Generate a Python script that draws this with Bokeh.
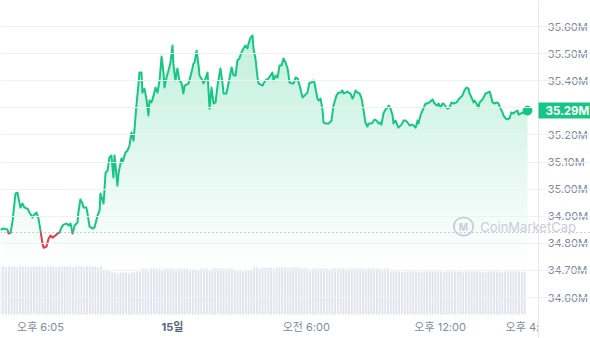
import numpy as np
from bokeh.plotting import figure
from bokeh.models import Range1d, FixedTicker, Span, Label, ColumnDataSource, Grid
from bokeh.core.properties import value
from bokeh.embed import file_html
from bokeh.resources import INLINE

# ---- data (hours relative to midnight of the 15th, market cap in millions) ----
hours = [
    -7.71, -7.58, -7.40, -7.35, -7.26, -7.17, -7.04, -6.95, -6.91, -6.82,
    -6.73, -6.64, -6.50, -6.41, -6.28, -6.23, -6.10, -6.01, -5.92, -5.83,
    -5.78, -5.65, -5.56, -5.47, -5.38, -5.25, -5.16, -5.07, -4.98, -4.89,
    -4.75, -4.66, -4.57, -4.48, -4.39, -4.26, -4.22, -4.13, -4.04, -3.99,
    -3.86, -3.81, -3.72, -3.59, -3.50, -3.36, -3.27, -3.23, -3.09, -3.00,
    -2.91, -2.83, -2.74, -2.65, -2.60, -2.47, -2.42, -2.29, -2.24, -2.11,
    -2.02, -1.93, -1.84, -1.75, -1.70, -1.61, -1.52, -1.48, -1.39, -1.35,
    -1.26, -1.17, -1.08, -1.03, -0.94, -0.85, -0.76, -0.67, -0.58, -0.49,
    -0.40, -0.36, -0.27, -0.18, -0.09, 0.00, 0.04, 0.13, 0.22, 0.31,
    0.40, 0.49, 0.54, 0.63, 0.72, 0.85, 0.94, 0.99, 1.08, 1.17,
    1.21, 1.35, 1.39, 1.48, 1.57, 1.66, 1.75, 1.84, 1.93, 2.02,
    2.06, 2.15, 2.24, 2.29, 2.42, 2.51, 2.65, 2.74, 2.83, 2.91,
    3.00, 3.09, 3.18, 3.27, 3.36, 3.41, 3.50, 3.59, 3.63, 3.72,
    3.81, 3.86, 4.04, 4.08, 4.17, 4.30, 4.39, 4.48, 4.53, 4.62,
    4.71, 4.80, 4.89, 4.98, 5.07, 5.16, 5.25, 5.38, 5.43, 5.52,
    5.61, 5.70, 5.83, 5.92, 6.05, 6.14, 6.23, 6.32, 6.37, 6.50,
    6.55, 6.64, 6.73, 6.77, 6.86, 7.00, 7.13, 7.22, 7.35, 7.44,
    7.53, 7.62, 7.67, 7.76, 7.85, 7.89, 7.98, 8.07, 8.12, 8.21,
    8.30, 8.39, 8.48, 8.57, 8.65, 8.74, 8.79, 8.92, 8.97, 9.06,
    9.15, 9.24, 9.28, 9.37, 9.46, 9.55, 9.64, 9.69, 9.78, 9.87,
    9.91, 10.00, 10.09, 10.13, 10.27, 10.36, 10.45, 10.54, 10.63, 10.76,
    10.90, 10.99, 11.03, 11.12, 11.21, 11.35, 11.43, 11.52, 11.66, 11.75,
    11.88, 11.93, 12.02, 12.11, 12.15, 12.29, 12.33, 12.42, 12.51, 12.60,
    12.74, 12.83, 12.91, 13.00, 13.09, 13.18, 13.27, 13.32, 13.41, 13.50,
    13.54, 13.63, 13.72, 13.77, 13.90, 13.95, 14.04, 14.13, 14.22, 14.30,
    14.35, 14.44, 14.53, 14.62, 14.71, 14.80, 14.84, 14.93, 15.02, 15.11,
    15.20, 15.29, 15.38, 15.47, 15.52, 15.61, 15.70, 15.78, 15.92,
]
price = [
    34.851, 34.855, 34.851, 34.836, 34.840, 34.884, 34.984, 34.987, 34.969, 34.932,
    34.947, 34.932, 34.928, 34.914, 34.895, 34.903, 34.914, 34.892, 34.847, 34.799,
    34.784, 34.788, 34.817, 34.829, 34.821, 34.829, 34.836, 34.840, 34.858, 34.869,
    34.873, 34.866, 34.873, 34.836, 34.866, 34.877, 34.914, 34.962, 34.947, 34.932,
    34.932, 34.910, 34.862, 34.855, 34.858, 34.903, 34.921, 34.984, 34.947, 35.061,
    35.069, 35.117, 35.124, 35.043, 35.124, 35.013, 35.058, 35.113, 35.098, 35.135,
    35.142, 35.161, 35.209, 35.179, 35.224, 35.316, 35.390, 35.430, 35.430, 35.356,
    35.371, 35.334, 35.272, 35.327, 35.320, 35.345, 35.375, 35.356, 35.401, 35.489,
    35.427, 35.375, 35.412, 35.438, 35.467, 35.530, 35.463, 35.401, 35.445, 35.401,
    35.393, 35.353, 35.382, 35.386, 35.390, 35.430, 35.463, 35.467, 35.511, 35.456,
    35.419, 35.401, 35.390, 35.408, 35.430, 35.297, 35.375, 35.316, 35.320, 35.382,
    35.401, 35.445, 35.393, 35.353, 35.353, 35.390, 35.449, 35.419, 35.419, 35.475,
    35.482, 35.504, 35.519, 35.530, 35.519, 35.537, 35.559, 35.567, 35.519, 35.482,
    35.412, 35.390, 35.382, 35.390, 35.401, 35.408, 35.419, 35.430, 35.401, 35.419,
    35.412, 35.456, 35.456, 35.482, 35.467, 35.445, 35.393, 35.390, 35.390, 35.412,
    35.408, 35.382, 35.338, 35.345, 35.356, 35.393, 35.393, 35.401, 35.390, 35.334,
    35.327, 35.334, 35.290, 35.246, 35.242, 35.242, 35.253, 35.308, 35.345, 35.356,
    35.356, 35.364, 35.353, 35.356, 35.360, 35.356, 35.353, 35.334, 35.342, 35.364,
    35.356, 35.353, 35.334, 35.290, 35.246, 35.231, 35.242, 35.242, 35.246, 35.257,
    35.253, 35.242, 35.246, 35.238, 35.279, 35.294, 35.301, 35.308, 35.297, 35.272,
    35.242, 35.253, 35.235, 35.227, 35.238, 35.253, 35.253, 35.246, 35.235, 35.238,
    35.227, 35.253, 35.242, 35.272, 35.290, 35.316, 35.316, 35.320, 35.331, 35.316,
    35.308, 35.316, 35.301, 35.316, 35.316, 35.301, 35.297, 35.301, 35.320, 35.316,
    35.320, 35.331, 35.338, 35.345, 35.364, 35.375, 35.371, 35.353, 35.338, 35.320,
    35.327, 35.316, 35.301, 35.320, 35.331, 35.338, 35.353, 35.356, 35.360, 35.338,
    35.320, 35.316, 35.320, 35.316, 35.297, 35.283, 35.272, 35.261, 35.257, 35.261,
    35.283, 35.279, 35.286, 35.290, 35.275, 35.279, 35.283, 35.279, 35.290,
]
base_price = 34.84

vol_start_hour = -7.71
vol_step_hours = 0.125
volume = [
    48, 48, 47, 48, 48, 48, 47, 48, 48, 48, 48, 47, 48, 48, 48, 48, 47, 48, 48, 48,
    47, 48, 48, 48, 48, 48, 47, 48, 48, 48, 47, 48, 48, 48, 48, 47, 48,
    45, 44, 44,
    42, 42, 41, 42, 42, 42, 41, 42, 42, 43, 43,
    46, 46, 45, 46, 46, 46, 46, 45, 46, 46, 46, 46, 45, 46, 46, 46, 46,
    45, 45, 45, 45,
    46, 46, 46, 45, 46, 46, 46, 46, 46, 45, 46, 46,
    44, 44, 44, 43, 44, 44, 44,
    47, 47, 46, 47, 47, 47, 47, 46, 47, 47, 47, 47, 46, 47, 47, 47, 47,
    46, 46, 46, 45, 46, 46, 46, 46, 46, 46, 45, 46, 46, 46, 46, 46,
    45, 46, 46, 46, 46, 46, 46, 45, 46, 46, 46, 46, 46, 45, 46, 46,
    43, 43, 43, 43, 42, 43, 43, 43, 43, 43, 43, 42, 43, 43, 43, 43, 43, 43, 43, 42,
    43, 43, 43, 43, 43, 43, 42, 43, 43, 43, 43, 43, 43, 43, 42, 43, 43, 43, 43, 43,
    42, 43, 43, 43, 43, 43, 43, 42, 43,
]

x_label_hours = [-5.92, 0.0, 6.0, 12.0, 16.0]
x_labels = ["오후 6:05", "15일", "오전 6:00", "오후 12:00", "오후 4:00"]
x_label_styles = ["normal", "bold", "normal", "normal", "normal"]
x_label_colors = ["#808a9d", "#58667e", "#808a9d", "#808a9d", "#808a9d"]
y_ticks = [34.6, 34.7, 34.8, 34.9, 35.0, 35.1, 35.2, 35.3, 35.4, 35.5, 35.6]

GREEN = "#16c784"
RED = "#ea3943"
GREY = "#808a9d"
FONT = "Inter, 'Noto Sans CJK KR', sans-serif"

# layout constants (data units)
X0, X1 = -7.713, 18.744          # visible time span across the full canvas
AXIS_X = 16.413                  # position of the price-axis line
TICK_LABEL_X = 16.83
Y0, Y1 = 34.449, 35.696
LABEL_Y = 34.493

p = figure(width=590, height=338, output_backend="svg", toolbar_location=None,
           x_range=Range1d(X0, X1), y_range=Range1d(Y0, Y1),
           x_axis_location=None, y_axis_location=None, min_border=0)
p.outline_line_color = None
p.background_fill_color = "white"
p.border_fill_color = "white"
for r in list(p.center):
    if isinstance(r, Grid):
        r.visible = False
p.add_layout(Grid(dimension=1, ticker=FixedTicker(ticks=y_ticks),
                  grid_line_color="#eff2f5", level="glyph"))

h = np.array(hours)
pr = np.array(price)

# gradient fill under the line, as stacked opaque bands
floor, top, step = 34.72, 35.57, 0.02
for lo in np.arange(floor, 35.60, step):
    hi = lo + step
    t = min(max((lo + step / 2 - floor) / (top - floor), 0.0), 1.0)
    a = 0.27 * t
    r = int(round(255 - (255 - 22) * a))
    g = int(round(255 - (255 - 199) * a))
    b = int(round(255 - (255 - 132) * a))
    col = f"#{r:02x}{g:02x}{b:02x}"
    p.varea(x=h, y1=np.full_like(h, lo), y2=np.clip(pr, lo, hi + 0.004),
            fill_color=col, level="underlay")

# volume bars
vol_hours = [vol_start_hour + i * vol_step_hours for i in range(len(volume))]
p.extra_y_ranges = {"vol": Range1d(-24, 314)}
p.vbar(x=vol_hours, top=volume, bottom=0, width=0.085, fill_color="#e1e4ee",
       line_color=None, y_range_name="vol")

# baseline
base = Span(location=base_price, dimension="width", line_color="#9aa2b1",
            line_dash="1 3", line_width=1)
base.level = "glyph"
p.add_layout(base)

# line split into green (above) / red (below) runs
runs_x, runs_y, runs_c = [], [], []
cx, cy = [h[0]], [pr[0]]
cup = pr[0] >= base_price
for i in range(1, len(h)):
    up = pr[i] >= base_price
    if up == cup:
        cx.append(h[i]); cy.append(pr[i])
    else:
        t = (base_price - pr[i - 1]) / (pr[i] - pr[i - 1])
        xm = h[i - 1] + t * (h[i] - h[i - 1])
        cx.append(xm); cy.append(base_price)
        runs_x.append(cx); runs_y.append(cy); runs_c.append(GREEN if cup else RED)
        cx, cy = [xm, h[i]], [base_price, pr[i]]
        cup = up
runs_x.append(cx); runs_y.append(cy); runs_c.append(GREEN if cup else RED)
p.multi_line(xs=runs_x, ys=runs_y, line_color=runs_c, line_width=2,
             line_join="round", line_cap="round")

p.scatter(x=[hours[-1]], y=[price[-1]], size=9, fill_color=GREEN, line_color=GREEN)

# x labels
src = ColumnDataSource(dict(x=x_label_hours, y=[LABEL_Y] * len(x_labels), text=x_labels,
                            style=x_label_styles, color=x_label_colors))
p.text(x="x", y="y", text="text", source=src, text_font=value(FONT), text_font_size="11px",
       text_font_style="style", text_color="color", text_align="center", text_baseline="middle")

# price-axis panel (white) with its tick labels
p.quad(left=[AXIS_X], right=[X1], bottom=[Y0], top=[Y1], fill_color="white", line_color=None)
ysrc = ColumnDataSource(dict(x=[TICK_LABEL_X] * len(y_ticks), y=y_ticks,
                             text=[f"{t:.2f}M" for t in y_ticks]))
p.text(x="x", y="y", text="text", source=ysrc, text_font=value("Inter"), text_font_size="11px",
       text_color=GREY, text_align="left", text_baseline="middle")
axis_line = Span(location=AXIS_X, dimension="height", line_color="#e4e7ec", line_width=1)
axis_line.level = "annotation"
p.add_layout(axis_line)

# watermark
p.add_layout(Label(x=13.05, y=34.862, text="M", text_align="center", text_baseline="middle",
                   text_color="#c9cdd6", text_font="Inter", text_font_size="10px",
                   text_font_style="bold", border_line_color="#c9cdd6", border_line_width=1.8,
                   border_radius=10, padding=(5, 3)))
p.add_layout(Label(x=13.80, y=34.862, text="CoinMarketCap", text_baseline="middle",
                   text_color="#c9cdd6", text_font="Inter", text_font_size="13px"))

# last value badge
p.add_layout(Label(x=AXIS_X, y=price[-1], text=f"{price[-1]:.2f}M",
                   text_align="left", text_baseline="middle", text_color="white",
                   text_font="Inter", text_font_size="11.5px", text_font_style="bold",
                   background_fill_color=GREEN, padding=(7, 1)))

open("out.html", "w").write(file_html(p, INLINE))
